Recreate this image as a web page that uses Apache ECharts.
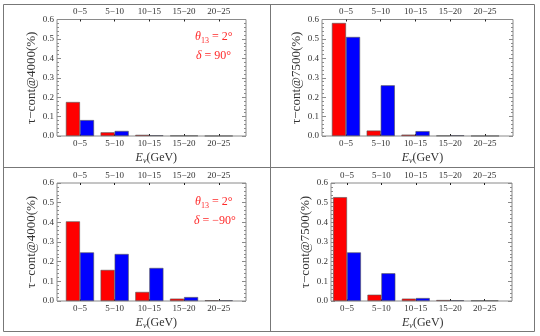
<!DOCTYPE html>
<html><head><meta charset="utf-8">
<script src="https://cdn.jsdelivr.net/npm/echarts@6/dist/echarts.min.js"></script>
<style>html,body{margin:0;padding:0;background:#fff}#c{width:540px;height:336px}</style>
</head><body><div id="c"></div>
<script>
// ---- data ----
const categories = ['0\u22125', '5\u221210', '10\u221215', '15\u221220', '20\u221225'];
const red4000p90  = [0.175, 0.019, 0.006, 0.002, 0.0006];
const blue4000p90 = [0.082, 0.026, 0.004, 0.002, 0.0006];
const red7500p90  = [0.582, 0.028, 0.007, 0.002, 0.0006];
const blue7500p90 = [0.510, 0.261, 0.025, 0.004, 0.0006];
const red4000m90  = [0.405, 0.158, 0.046, 0.012, 0.004];
const blue4000m90 = [0.247, 0.239, 0.168, 0.020, 0.004];
const red7500m90  = [0.528, 0.032, 0.012, 0.005, 0.003];
const blue7500m90 = [0.247, 0.141, 0.015, 0.004, 0.003];
const yMin = 0, yMax = 0.6, yStep = 0.1;
const yNames = ['\u03c4\u2212cont@4000(%)', '\u03c4\u2212cont@7500(%)', '\u03c4\u2212cont@4000(%)', '\u03c4\u2212cont@7500(%)'];

// ---- layout ----
const panels = [
  {fx0: 57,  fx1: 246, fy0: 19.5, fy1: 136, bx: 62.6,  bw: 173.5, red: red4000p90, blue: blue4000p90},
  {fx0: 322, fx1: 513, fy0: 19.5, fy1: 136, bx: 328.6, bw: 173.8, red: red7500p90, blue: blue7500p90},
  {fx0: 57,  fx1: 246, fy0: 183,  fy1: 301, bx: 62.6,  bw: 173.5, red: red4000m90, blue: blue4000m90},
  {fx0: 331, fx1: 512, fy0: 183,  fy1: 301, bx: 329.8, bw: 172.0, red: red7500m90, blue: blue7500m90}
];
const FONT = '"Liberation Serif", "DejaVu Serif", serif';
const TXT = '#333';
const FRAME = '#8a8a8a';

const grid = [], xAxis = [], yAxis = [], series = [];
panels.forEach((p, i) => {
  const fg = grid.length;
  grid.push({left: p.fx0, top: p.fy0, width: p.fx1 - p.fx0, height: p.fy1 - p.fy0,
             show: true, borderColor: FRAME, borderWidth: 1, backgroundColor: 'transparent'});
  const bg = grid.length;
  grid.push({left: p.bx, top: p.fy0, width: p.bw, height: p.fy1 - p.fy0});
  // frame axes
  xAxis.push({gridIndex: fg, type: 'value', show: false, min: 0, max: 1});
  const yBase = {gridIndex: fg, type: 'value', min: yMin, max: yMax, interval: yStep,
    splitLine: {show: false}, axisLine: {show: false},
    axisTick: {show: true, inside: true, length: 4, lineStyle: {color: FRAME}},
    minorTick: {show: true, splitNumber: 5, length: 2, lineStyle: {color: FRAME}}};
  yAxis.push(Object.assign({}, yBase, {position: 'left',
    axisLabel: {show: true, fontFamily: FONT, fontSize: 9, color: TXT, margin: 3,
                formatter: v => v.toFixed(1)},
    name: yNames[i], nameLocation: 'middle', nameGap: 19, nameRotate: 90,
    nameTextStyle: {fontFamily: FONT, fontSize: 13, color: TXT}}));
  yAxis.push(Object.assign({}, yBase, {position: 'right', axisLabel: {show: false}}));
  // bar axes
  const catBase = {gridIndex: bg, type: 'category', data: categories, boundaryGap: true,
    axisLine: {show: false},
    axisTick: {show: true, inside: true, length: 2, alignWithLabel: true, lineStyle: {color: '#222'}},
    axisLabel: {fontFamily: FONT, fontSize: 9, color: TXT, margin: 3}};
  const xb = xAxis.length;
  xAxis.push(Object.assign({}, catBase, {position: 'bottom',
    name: '{i|E}{s|\u03bd}{n|(GeV)}', nameLocation: 'middle', nameGap: 15,
    nameTextStyle: {padding: [0, 0, 0, 14], rich: {
      i: {fontFamily: FONT, fontSize: 12, fontStyle: 'italic', color: TXT},
      s: {fontFamily: FONT, fontSize: 8, fontStyle: 'italic', color: TXT, verticalAlign: 'bottom', padding: [6, 0, 0, 0]},
      n: {fontFamily: FONT, fontSize: 12, color: TXT}}}}));
  xAxis.push(Object.assign({}, catBase, {position: 'top'}));
  const yb = yAxis.length;
  yAxis.push({gridIndex: bg, type: 'value', min: yMin, max: yMax, show: false});
  series.push({type: 'bar', xAxisIndex: xb, yAxisIndex: yb, data: p.red, barGap: '0%', barCategoryGap: '19%',
    itemStyle: {color: '#ff0000', borderColor: '#555', borderWidth: 0.6}, silent: true});
  series.push({type: 'bar', xAxisIndex: xb, yAxisIndex: yb, data: p.blue, barGap: '0%', barCategoryGap: '19%',
    itemStyle: {color: '#0000ff', borderColor: '#555', borderWidth: 0.6}, silent: true});
});

const annRich = {
  i: {fontFamily: FONT, fontSize: 12, fontStyle: 'italic', fill: '#ff2a2a'},
  s: {fontFamily: FONT, fontSize: 8, fill: '#ff2a2a', padding: [7, 0, 0, 0]},
  n: {fontFamily: FONT, fontSize: 12, fill: '#ff2a2a'}
};
function ann(x, y, t) {
  return {type: 'text', left: x, top: y, style: {text: t, rich: annRich, fontFamily: FONT, fontSize: 12, fill: '#ff2a2a'}};
}
const graphic = [
  {type: 'rect', shape: {x: 3.5, y: 4.5, width: 531, height: 327}, style: {fill: 'none', stroke: '#777', lineWidth: 1}},
  {type: 'line', shape: {x1: 270.5, y1: 4.5, x2: 270.5, y2: 331.5}, style: {stroke: '#777', lineWidth: 1}},
  {type: 'line', shape: {x1: 3.5, y1: 167.5, x2: 534.5, y2: 167.5}, style: {stroke: '#777', lineWidth: 1}},
  ann(195, 31, '{i|\u03b8}{s|13}{n| = 2\u00b0}'),
  ann(196, 50, '{i|\u03b4}{n| = 90\u00b0}'),
  ann(195, 196, '{i|\u03b8}{s|13}{n| = 2\u00b0}'),
  ann(194, 215, '{i|\u03b4}{n| = \u221290\u00b0}')
];

const chart = echarts.init(document.getElementById('c'), null, {renderer: 'canvas'});
chart.setOption({backgroundColor: '#fff', animation: false, grid, xAxis, yAxis, series, graphic});
</script></body></html>
